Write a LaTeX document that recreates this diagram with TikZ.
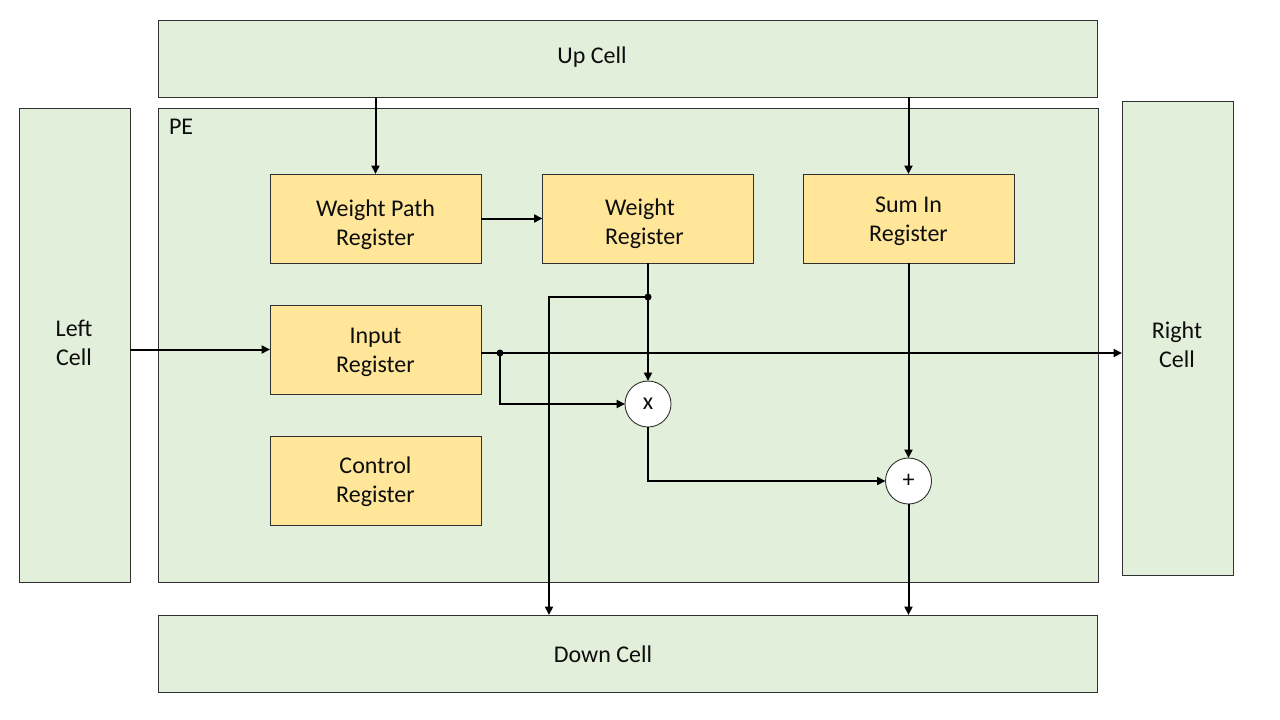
\documentclass[tikz,border=0pt]{standalone}
\usepackage{fontspec}
\setmainfont{Carlito}
\usetikzlibrary{arrows.meta}
\definecolor{cellgreen}{HTML}{E2EFDA}
\definecolor{regyellow}{HTML}{FFE699}
\definecolor{edge}{HTML}{303030}
\definecolor{txt}{HTML}{0D0D0D}
\begin{document}
\begin{tikzpicture}[x=1pt,y=-1pt,
  every node/.style={font=\fontsize{24}{29}\selectfont, text=txt, align=center, inner sep=0pt, outer sep=0pt},
  cell/.style={draw=edge, line width=0.9pt, fill=cellgreen},
  reg/.style={draw=edge, line width=0.9pt, fill=regyellow, minimum width=211pt, minimum height=89pt},
  op/.style={circle, draw=edge, line width=0.9pt, fill=white, minimum size=46pt},
  arr/.style={line width=2pt, -{Triangle[length=8.5pt,width=8pt]}},
  dot/.style={fill=black}]
\useasboundingbox[fill=white] (0,0) rectangle (1280,720);
% cells
\node[cell, minimum width=939pt, minimum height=77pt] (up) at (627.5,58.5) {};
\node (uplabel) at (592,57) {Up Cell};
\node[cell, minimum width=940pt, minimum height=474pt] (pe) at (628,345) {};
\node[anchor=west] (pelabel) at (169,127) {PE};
\node[cell, minimum width=111pt, minimum height=474pt] (left) at (74.5,345) {};
\node (leftlabel) at (74,343) {Left\\Cell};
\node[cell, minimum width=111pt, minimum height=474pt] (right) at (1177.5,338) {};
\node (rightlabel) at (1177,345) {Right\\Cell};
\node[cell, minimum width=939pt, minimum height=77pt] (down) at (627.5,653.5) {};
\node (downlabel) at (603,654.5) {Down Cell};
% registers
\node[reg] (wpr) at (375.5,218.5) {};
\node (wprlabel) at (375.5,225) {Weight Path\\Register};
\node[reg] (wreg) at (648,218.5) {};
\node[align=left] (wreglabel) at (644.5,223.5) {Weight\\Register};
\node[reg] (sumin) at (908.5,218.5) {};
\node (suminlabel) at (908.5,221.5) {Sum In\\Register};
\node[reg] (inreg) at (375.5,349.5) {};
\node (inreglabel) at (375.5,352.5) {Input\\Register};
\node[reg] (ctrl) at (375.5,480.5) {};
\node (ctrllabel) at (375.5,481.5) {Control\\Register};
% operators
\node[op] (mul) at (648,404) {x};
\node[op] (plus) at (908.5,481) {+};
% junctions
\coordinate (j1) at (648,297);
\coordinate (j2) at (500,353);
\coordinate (d1) at (549,615);
% connectors
\draw[arr] (up.south -| wpr.north) -- (wpr.north);
\draw[arr] (up.south -| sumin.north) -- (sumin.north);
\draw[arr] (wpr.east) -- (wreg.west);
\draw[arr] (wreg.south) -- (mul.north);
\draw[arr] (j1) -- (j1 -| d1) -- (d1);
\draw[arr] (left.east |- inreg.west) -- (inreg.west);
\draw[arr] (inreg.east |- j2) -- (right.west |- j2);
\draw[arr] (j2) |- (mul.west);
\draw[arr] (mul.south) |- (plus.west);
\draw[arr] (sumin.south) -- (plus.north);
\draw[arr] (plus.south) -- (plus.south |- down.north);
\fill[dot] (j1) circle (3.5pt);
\fill[dot] (j2) circle (3.5pt);
\end{tikzpicture}
\end{document}
